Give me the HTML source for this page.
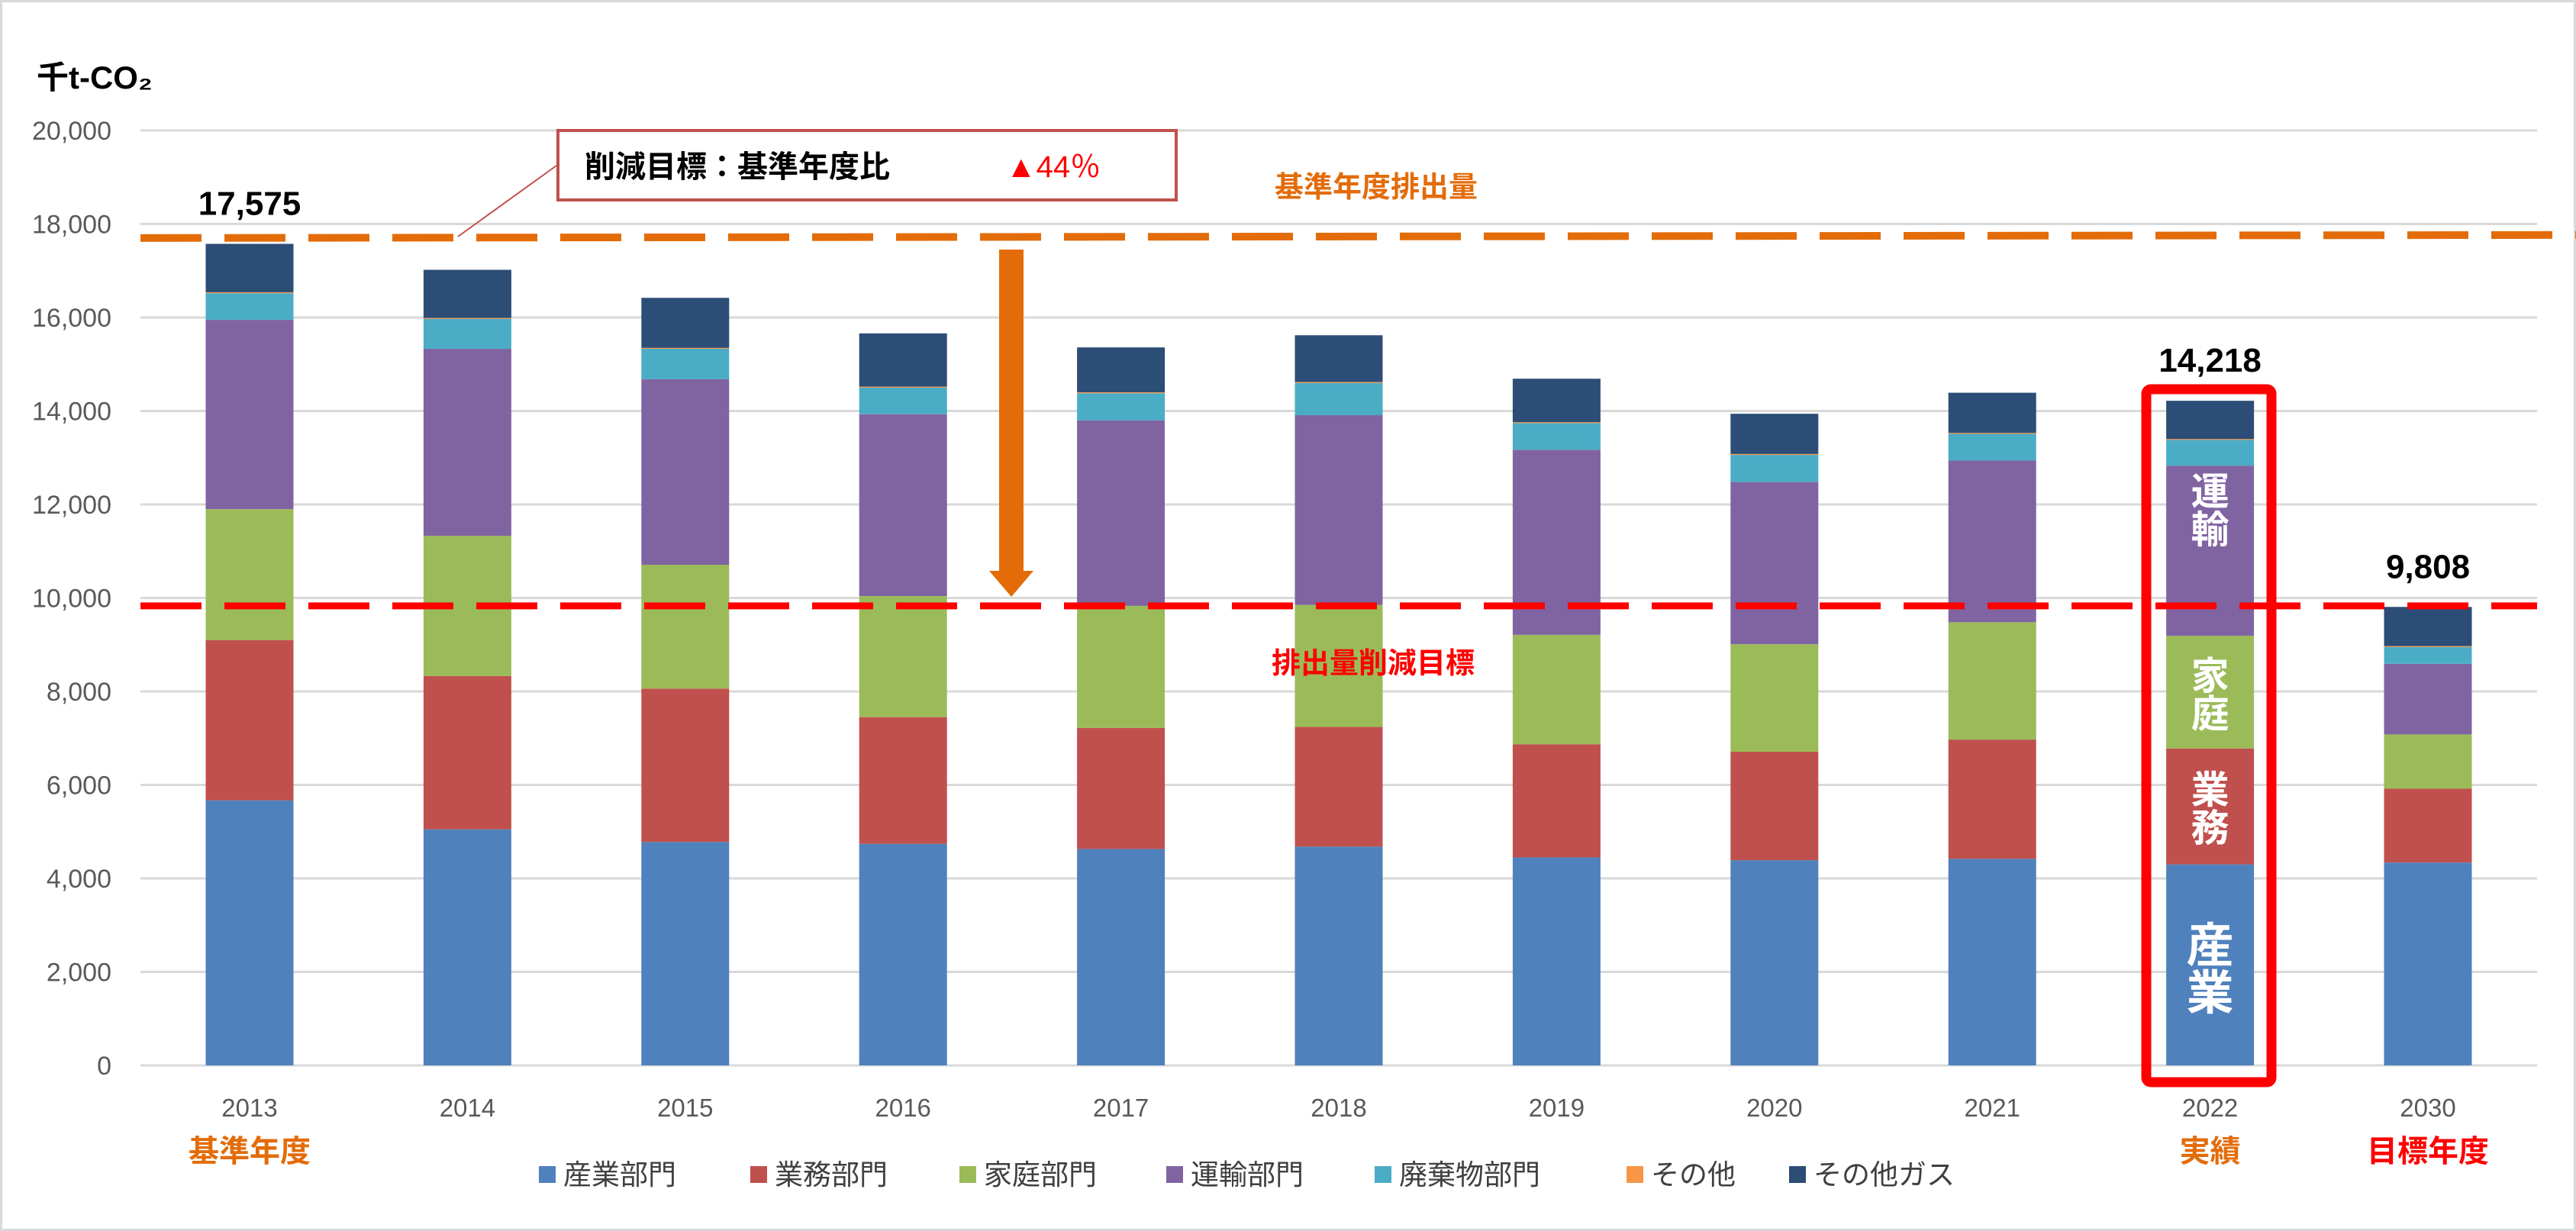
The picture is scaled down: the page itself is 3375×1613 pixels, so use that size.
<!DOCTYPE html>
<html><head><meta charset="utf-8"><style>
html,body{margin:0;padding:0;background:#fff}
svg{display:block}
text{font-family:"Liberation Sans","Noto Sans CJK JP",sans-serif}
</style></head><body>
<svg id="chart" width="3375" height="1613" viewBox="0 0 3375 1613" xmlns="http://www.w3.org/2000/svg">
<rect x="1.5" y="1.5" width="3372" height="1610" fill="#fff" stroke="#d9d9d9" stroke-width="3"/>
<g id="grid"></g>
<g id="bars"></g>
<g id="over"></g>
</svg>
<script>
const categories=["2013","2014","2015","2016","2017","2018","2019","2020","2021","2022","2030"];
const industry=[5670,5050,4780,4740,4630,4680,4450,4390,4420,4300,4340];
const business=[3430,3280,3280,2710,2590,2560,2420,2320,2550,2480,1580];
const household=[2800,3000,2650,2590,2610,2610,2340,2300,2510,2410,1160];
const transport=[4050,4000,3970,3890,3970,4060,3960,3470,3460,3640,1510];
const waste=[570,640,650,570,580,690,570,580,570,550,360];
const other=[20,20,20,20,20,20,20,20,20,20,20];
const otherGas=[1035,1030,1070,1140,960,1000,930,860,860,818,838];
const totals=["17,575",null,null,null,null,null,null,null,null,"14,218","9,808"];
const yTicks=[0,2000,4000,6000,8000,10000,12000,14000,16000,18000,20000];
const baseLine=17700, targetLine=9830;
const seriesNames=["産業部門","業務部門","家庭部門","運輸部門","廃棄物部門","その他","その他ガス"];
const seriesColors=["#4f81bd","#c0504d","#9bbb59","#8064a2","#4bacc6","#f79646","#2c4d75"];
const series=[industry,business,household,transport,waste,other,otherGas];

const NS="http://www.w3.org/2000/svg";
const y=v=>1396-v*(1225/20000);
const xc=i=>327+i*285.4;
const BW=115;
function mk(tag,attrs,parent,txt){const e=document.createElementNS(NS,tag);for(const k in attrs)e.setAttribute(k,attrs[k]);if(txt!=null)e.textContent=txt;parent.appendChild(e);return e;}
const grid=document.getElementById('grid'),bars=document.getElementById('bars'),over=document.getElementById('over');

yTicks.forEach(t=>{
  const l=mk('line',{x1:184,x2:3324,y1:y(t),y2:y(t),stroke:'#d9d9d9','stroke-width':3},grid);
  
  
  const tx=mk('text',{x:146,y:y(t)+12,'text-anchor':'end','font-size':34,fill:'#595959'},grid,t.toLocaleString('en-US'));
  
  
});
const unit=mk('text',{x:48,y:116,'font-size':42,'font-weight':'bold',fill:'#000'},grid,'千t-CO₂');



categories.forEach((c,i)=>{
  let acc=0;
  series.forEach((s,k)=>{
    const r=mk('rect',{x:xc(i)-BW/2,y:y(acc+s[i]),width:BW,height:y(acc)-y(acc+s[i]),fill:seriesColors[k]},bars);
    
    
    acc+=s[i];
  });
  const tx=mk('text',{x:xc(i),y:1463,'text-anchor':'middle','font-size':33,fill:'#595959'},grid,c);
  
  
  if(totals[i]){
    const tt=mk('text',{x:xc(i),y:y(acc)-38,'text-anchor':'middle','font-size':44,'font-weight':'bold',fill:'#000'},over,totals[i]);
    
    
  }
});

// reference lines
const ol=mk('line',{x1:184,x2:3375,y1:y(baseLine),y2:y(baseLine)-4,stroke:'#e36c09','stroke-width':10,'stroke-dasharray':'80 30'},over);


const rl=mk('line',{x1:184,x2:3324,y1:y(targetLine),y2:y(targetLine),stroke:'#ff0000','stroke-width':9,'stroke-dasharray':'80 30'},over);



const bl=mk('text',{x:1803,y:258,'text-anchor':'middle','font-size':38,'font-weight':'bold',fill:'#e36c09'},over,'基準年度排出量');


const tl=mk('text',{x:1799,y:882,'text-anchor':'middle','font-size':38,'font-weight':'bold',fill:'#ff0000'},over,'排出量削減目標');



// arrow
const ar=mk('path',{d:'M1309,327 H1341 V748 H1354 L1325,782 L1296,748 H1309 Z',fill:'#e36c09'},over);



// leader + callout
const ld=mk('line',{x1:729,y1:217,x2:600,y2:310,stroke:'#c0504d','stroke-width':2},over);


const bx=mk('rect',{x:731,y:171,width:810,height:91,fill:'#fff',stroke:'#c0504d','stroke-width':4},over);


const ct=mk('text',{x:766,y:232,'font-size':40,'font-weight':'bold',fill:'#000'},over,'削減目標：基準年度比');


const cp=mk('text',{x:1318,y:232,'font-size':40,fill:'#ff0000'},over,'▲44％');



// highlight box
const hb=mk('rect',{x:2812,y:510,width:164,height:908,rx:6,fill:'none',stroke:'#ff0000','stroke-width':13},over);



// in-bar labels
const inl=[["運","輸",12850,11000,50],["家","庭",9190,6780,50],["業","務",6780,4300,50],["産","業",4300,0,62]];
inl.forEach(([a,b,top,bot,fs])=>{
  const mid=y((top+bot)/2);
  [a,b].forEach((ch,j)=>{
    const t=mk('text',{x:xc(9),y:mid+(j===0?-4:fs-4),'text-anchor':'middle','font-size':fs,'font-weight':'bold',fill:'#fff'},over,ch);
    
    
  });
});

// sub labels
[["基準年度",0,'#e36c09'],["実績",9,'#e36c09'],["目標年度",10,'#ff0000']].forEach(([s,i,c])=>{
  const t=mk('text',{x:xc(i),y:1522,'text-anchor':'middle','font-size':40,'font-weight':'bold',fill:c},over,s);
  
  
});

// legend
const lx=[706,983,1257,1528,1801,2131,2344];
seriesNames.forEach((n,k)=>{
  const r=mk('rect',{x:lx[k],y:1528,width:22,height:22,fill:seriesColors[k]},over);
  
  
  const t=mk('text',{x:lx[k]+32,y:1552,'font-size':37,fill:'#404040'},over,n);
  
  
});
</script>
</body></html>
